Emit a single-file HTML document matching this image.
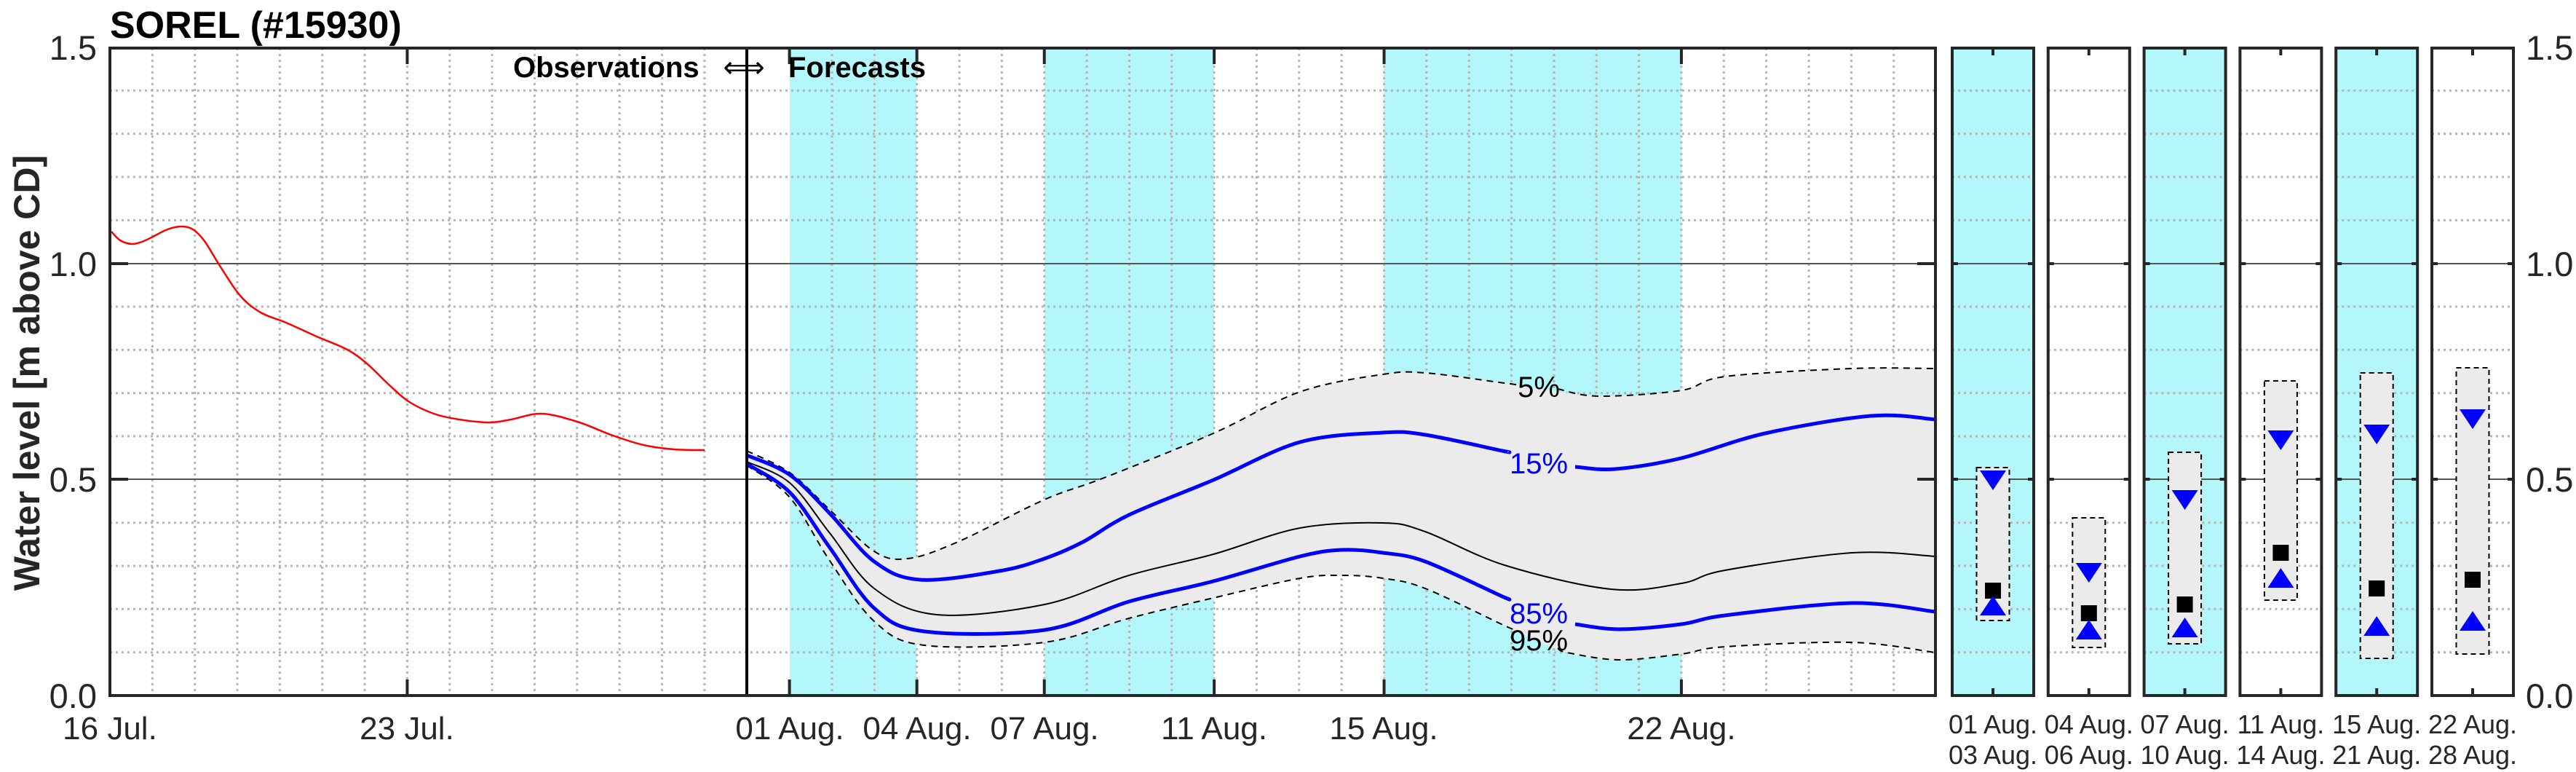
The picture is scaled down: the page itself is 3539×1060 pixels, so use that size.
<!DOCTYPE html>
<html><head><meta charset="utf-8"><style>
html,body{margin:0;padding:0;background:#fff}
svg{display:block}
text{font-family:"Liberation Sans",Arial,sans-serif}
</style></head><body>
<svg width="3539" height="1060" viewBox="0 0 3539 1060" xmlns="http://www.w3.org/2000/svg">
<rect x="1085" y="66" width="174" height="889" fill="#b3f7fa"/>
<rect x="1435" y="66" width="233" height="889" fill="#b3f7fa"/>
<rect x="1901" y="66" width="409" height="889" fill="#b3f7fa"/>
<g stroke="#b5b5b5" stroke-width="3" stroke-dasharray="3 5">
<line x1="151" x2="2659" y1="895.7" y2="895.7"/><line x1="151" x2="2659" y1="836.3" y2="836.3"/>
<line x1="151" x2="2659" y1="777" y2="777"/><line x1="151" x2="2659" y1="717.7" y2="717.7"/>
<line x1="151" x2="2659" y1="599" y2="599"/><line x1="151" x2="2659" y1="539.7" y2="539.7"/>
<line x1="151" x2="2659" y1="480.4" y2="480.4"/><line x1="151" x2="2659" y1="421" y2="421"/>
<line x1="151" x2="2659" y1="302.4" y2="302.4"/><line x1="151" x2="2659" y1="243" y2="243"/>
<line x1="151" x2="2659" y1="183.7" y2="183.7"/><line x1="151" x2="2659" y1="124.4" y2="124.4"/>
</g>
<g stroke="#b5b5b5" stroke-width="3" stroke-dasharray="3 5" id="vg"></g>
<g stroke="#555" stroke-width="2">
<line x1="151" x2="2659" y1="658" y2="658"/><line x1="151" x2="2659" y1="362" y2="362"/>
</g>
<g id="curves"></g>
<g font-size="40" text-anchor="middle">
<text x="2114" y="545" fill="#000">5%</text>
<text x="2114" y="650" fill="#0000ff">15%</text>
<text x="2114" y="856" fill="#0000ff">85%</text>
<text x="2114" y="893" fill="#000">95%</text>
</g>
<line x1="1026" y1="66" x2="1026" y2="955" stroke="#000" stroke-width="4"/>
<g stroke="#262626" stroke-width="4" id="tk">
<line x1="151" x2="176" y1="658" y2="658"/><line x1="151" x2="176" y1="362" y2="362"/>
<line x1="2634" x2="2659" y1="658" y2="658"/><line x1="2634" x2="2659" y1="362" y2="362"/>
</g>
<rect x="151" y="66" width="2508" height="889" fill="none" stroke="#262626" stroke-width="4"/>
<text x="151" y="52" font-size="52" font-weight="bold" fill="#000">SOREL (#15930)</text>
<text x="705" y="106" font-size="40" font-weight="bold" fill="#000">Observations</text>
<text x="1022" y="106" font-size="40" fill="#000" text-anchor="middle">⟺</text>
<text x="1083" y="106" font-size="40" font-weight="bold" fill="#000">Forecasts</text>
<text transform="translate(54,512) rotate(-90)" font-size="50" font-weight="bold" text-anchor="middle" fill="#262626">Water level [m above CD]</text>
<g font-size="47" fill="#262626" text-anchor="end">
<text x="133" y="972">0.0</text><text x="133" y="675">0.5</text><text x="133" y="379">1.0</text><text x="133" y="82">1.5</text>
</g>
<g font-size="47" fill="#262626">
<text x="3470" y="972">0.0</text><text x="3470" y="675">0.5</text><text x="3470" y="379">1.0</text><text x="3470" y="82">1.5</text>
</g>
<g font-size="44" fill="#262626" text-anchor="middle">
<text x="151" y="1015">16 Jul.</text><text x="559" y="1015">23 Jul.</text>
<text x="1085" y="1015">01 Aug.</text><text x="1260" y="1015">04 Aug.</text><text x="1435" y="1015">07 Aug.</text>
<text x="1668" y="1015">11 Aug.</text><text x="1901" y="1015">15 Aug.</text><text x="2310" y="1015">22 Aug.</text>
</g>
<g id="panels"></g>
</svg>
<script>
(function(){
var ns="http://www.w3.org/2000/svg";
function el(p,t,a,txt){var e=document.createElementNS(ns,t);for(var k in a)e.setAttribute(k,a[k]);if(txt)e.textContent=txt;p.appendChild(e);return e;}
function P(s){return s.trim().split(/\s+/).map(function(q){return q.split(',').map(Number);});}
function cr(p,move){var d=move?'M'+p[0][0]+','+p[0][1]:'L'+p[0][0]+','+p[0][1];
for(var i=0;i<p.length-1;i++){var a=p[i>0?i-1:i],b=p[i],c=p[i+1],e=p[i+2<p.length?i+2:i+1];
d+=' C'+(b[0]+(c[0]-a[0])/6)+','+(b[1]+(c[1]-a[1])/6)+' '+(c[0]-(e[0]-b[0])/6)+','+(c[1]-(e[1]-b[1])/6)+' '+c[0]+','+c[1];}
return d;}
var C=document.getElementById('curves');
var up=P("1026,619 1085,649 1140,700 1201,757 1247,767 1316,744 1435,686 1517,656 1667,595 1786,538 1900,514 1958,512 2067,526 2197,544 2310,536 2370,517 2544,506 2659,506");
var lo=P("1026,639 1085,683 1140,770 1201,853 1270,886 1435,882 1551,849 1667,821 1786,794 1844,790 1900,794 1958,808 2067,859 2153,896 2224,906 2310,898 2370,888 2544,882 2659,896");
el(C,'path',{d:cr(up,true)+' '+cr(lo.slice().reverse(),false)+' Z',fill:'#ebebeb'});
function line(s,st){el(C,'path',Object.assign({d:cr(P(s),true),fill:'none','stroke-linejoin':'round','stroke-linecap':'butt'},st));}
var dsh={stroke:'#000','stroke-width':2,'stroke-dasharray':'9 7'};
line("1026,619 1085,649 1140,700 1201,757 1247,767 1316,744 1435,686 1517,656 1667,595 1786,538 1900,514 1958,512 2067,526 2090,529",dsh);
line("2140,534 2197,544 2310,536 2370,517 2544,506 2659,506",dsh);
line("1026,639 1085,683 1140,770 1201,853 1270,886 1435,882 1551,849 1667,821 1786,794 1844,790 1900,794 1958,808 2067,859 2090,868",dsh);
line("2140,890 2153,896 2224,906 2310,898 2370,888 2544,882 2659,896",dsh);
var bl={stroke:'#0000ff','stroke-width':5};
line("1026,625 1085,652 1140,705 1201,771 1264,796 1373,784 1435,767 1488,744 1551,707 1667,659 1786,607 1900,594 1958,597 2064,619 2070,620",bl);
line("2164,641 2219,644 2310,629 2425,595 2571,571 2659,576",bl);
line("1026,637 1085,676 1140,752 1201,835 1270,867 1435,865 1551,826 1667,798 1786,764 1844,755 1900,759 1958,771 2064,819 2070,821",bl);
line("2164,857 2224,864 2310,857 2370,845 2544,828 2659,840",bl);
line("1026,634 1085,663 1140,732 1201,808 1287,844 1435,830 1551,790 1667,761 1786,725 1900,718 1958,730 2067,776 2213,809 2310,801 2370,783 2544,759 2659,764",{stroke:'#000','stroke-width':2});
line("153,318 165,330 181,335 195,332 210,325 230,315 249,311 265,315 281,331 302,365 330,406 358,429 393,443 435,462 477,480 505,500 533,527 561,551 596,568 631,576 673,580 702,576 744,568 793,579 842,598 884,611 926,617 968,618",{stroke:'#ff0000','stroke-width':2.5});
var vg=document.getElementById('vg');
for(var d=1;d<=42;d++){if(d==15||d==16)continue;var x=151+d*58.35;el(vg,'line',{x1:x,x2:x,y1:66,y2:955});}
var tk=document.getElementById('tk');
[7,16,19,22,26,30,37].forEach(function(d){var x=151+d*58.35;el(tk,'line',{x1:x,x2:x,y1:66,y2:88});el(tk,'line',{x1:x,x2:x,y1:933,y2:955});});
var Pn=document.getElementById('panels');
var data=[[1,642,852,659,811,832,'01 Aug.','03 Aug.'],[0,711,889,786,842,865,'04 Aug.','06 Aug.'],[1,621,884,686,830,862,'07 Aug.','10 Aug.'],[0,523,824,604,759,794,'11 Aug.','14 Aug.'],[1,512,904,596,808,860,'15 Aug.','21 Aug.'],[0,505,898,575,796,853,'22 Aug.','28 Aug.']];
data.forEach(function(r,i){
var x0=2682+i*131.8,w=112,cx=x0+w/2;
if(r[0])el(Pn,'rect',{x:x0,y:66,width:w,height:889,fill:'#b3f7fa'});
var g=el(Pn,'g',{stroke:'#b5b5b5','stroke-width':3,'stroke-dasharray':'3 5'});
[895.7,836.3,777,717.7,599,539.7,480.4,421,302.4,243,183.7,124.4].forEach(function(y){el(g,'line',{x1:x0,x2:x0+w,y1:y,y2:y});});
el(Pn,'line',{x1:x0,x2:x0+w,y1:658,y2:658,stroke:'#555','stroke-width':2});
el(Pn,'line',{x1:x0,x2:x0+w,y1:362,y2:362,stroke:'#555','stroke-width':2});
el(Pn,'rect',{x:cx-22.5,y:r[1],width:45,height:r[2]-r[1],fill:'#ebebeb',stroke:'#000','stroke-width':2,'stroke-dasharray':'7 5'});
el(Pn,'polygon',{points:(cx-18)+','+(r[3]-13)+' '+(cx+18)+','+(r[3]-13)+' '+cx+','+(r[3]+14),fill:'#0000ff'});
el(Pn,'rect',{x:cx-11,y:r[4]-11,width:22,height:22,fill:'#000'});
el(Pn,'polygon',{points:(cx-18)+','+(r[5]+13)+' '+(cx+18)+','+(r[5]+13)+' '+cx+','+(r[5]-14),fill:'#0000ff'});
var t=el(Pn,'g',{stroke:'#262626','stroke-width':4});
el(t,'line',{x1:cx,x2:cx,y1:66,y2:76});el(t,'line',{x1:cx,x2:cx,y1:945,y2:955});
[658,362].forEach(function(y){el(t,'line',{x1:x0,x2:x0+8,y1:y,y2:y});el(t,'line',{x1:x0+w-8,x2:x0+w,y1:y,y2:y});});
el(Pn,'rect',{x:x0,y:66,width:w,height:889,fill:'none',stroke:'#262626','stroke-width':4});
el(Pn,'text',{x:cx,y:1007,'font-size':36,fill:'#262626','text-anchor':'middle'},r[6]);
el(Pn,'text',{x:cx,y:1049,'font-size':36,fill:'#262626','text-anchor':'middle'},r[7]);
});
})();
</script>
</body></html>
